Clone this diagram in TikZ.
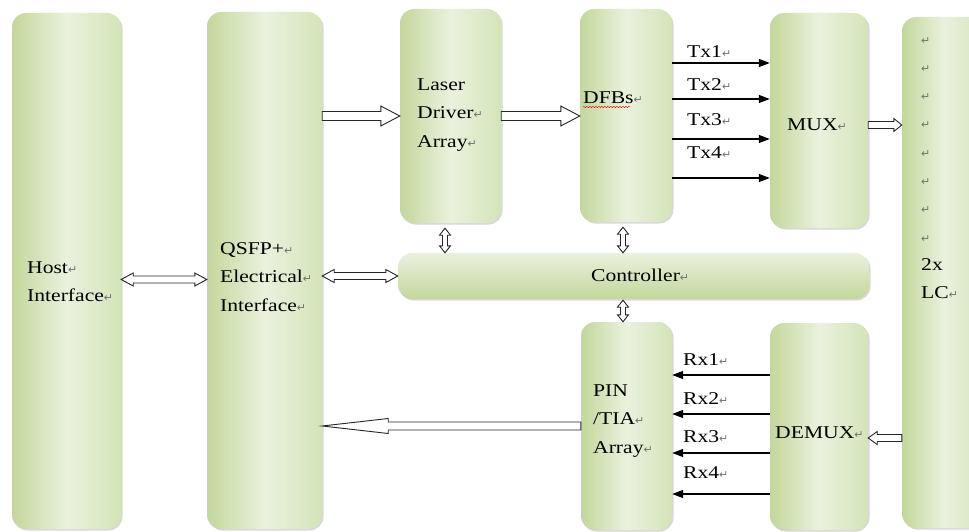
\documentclass[tikz,border=0pt]{standalone}
\usepackage{fontspec}
\setmainfont{Liberation Serif}[FakeStretch=1.2]
\newfontfamily\symfont{DejaVu Sans}
\usetikzlibrary{calc,arrows.meta,shadows,decorations.pathmorphing}
\definecolor{boxdark}{RGB}{195,215,155}
\definecolor{boxmid}{RGB}{212,228,184}
\definecolor{boxlite}{RGB}{234,241,222}
% return mark as printed by the editor
\newcommand{\retmark}{{\symfont\fontsize{11}{11}\selectfont\textcolor{black!55}{↵}}}
% open block arrow: tail, tip, half shaft, half head, head length
\newcommand{\onearrow}[5]{%
  \coordinate (hb) at ($(#2)!#5!(#1)$);
  \draw[blk] ($(#1)!#3!90:(#2)$) -- ($(hb)!#3!-90:(#1)$) -- ($(hb)!#4!-90:(#1)$) -- (#2)
    -- ($(hb)!#4!90:(#1)$) -- ($(hb)!#3!90:(#1)$) -- ($(#1)!#3!-90:(#2)$) -- cycle;}
% open block arrow with two heads
\newcommand{\twoarrow}[5]{%
  \coordinate (ha) at ($(#1)!#5!(#2)$);
  \coordinate (hb) at ($(#2)!#5!(#1)$);
  \draw[blk] (#1) -- ($(ha)!#4!90:(#2)$) -- ($(ha)!#3!90:(#2)$) -- ($(hb)!#3!-90:(#1)$)
    -- ($(hb)!#4!-90:(#1)$) -- (#2) -- ($(hb)!#4!90:(#1)$) -- ($(hb)!#3!90:(#1)$)
    -- ($(ha)!#3!-90:(#2)$) -- ($(ha)!#4!-90:(#2)$) -- cycle;}
\tikzset{
  box/.style={rounded corners=14pt, inner sep=0pt, left color=boxdark, right color=boxmid,
    middle color=boxlite, drop shadow={shadow xshift=1.5pt, shadow yshift=-1.5pt, opacity=0.3}},
  txt/.style={anchor=west, inner sep=0pt, align=left, font=\fontsize{18}{28.3}\selectfont},
  blk/.style={draw=black!85, fill=white, line width=0.9pt, line join=miter},
  sig/.style={line width=1.3pt, -{Triangle[length=11pt,width=8pt]}}
}
\begin{document}
\begin{tikzpicture}[x=1pt,y=-1pt]
  \useasboundingbox[fill=white] (0,0) rectangle (969,532);
  % blocks
  \node[box, minimum width=109, minimum height=516] (host) at (66.5,271) {};
  \node[box, minimum width=115, minimum height=517] (qsfp) at (264.5,270.5) {};
  \node[box, minimum width=101, minimum height=214] (lda) at (450.5,116) {};
  \node[box, minimum width=92, minimum height=213] (dfb) at (626,115.5) {};
  \node[box, minimum width=98, minimum height=215] (mux) at (819,120.5) {};
  \node[box, minimum width=84, minimum height=511] (lc) at (944,272.5) {};
  \node[box, minimum width=471, minimum height=46, top color=boxlite, bottom color=boxdark] (ctrl) at (633.5,276) {};
  \node[box, minimum width=91, minimum height=208] (pin) at (626.5,426) {};
  \node[box, minimum width=98, minimum height=207] (demux) at (819,426.5) {};
  % labels
  \node[txt] (hostlbl) at (27,282) {Host\retmark\\Interface\retmark};
  \node[txt] (qsfplbl) at (220,277) {QSFP+\retmark\\Electrical\retmark\\Interface\retmark};
  \node[txt] (ldalbl) at (417,115) {Laser\\Driver\retmark\\Array\retmark};
  \node[txt] (dfblbl) at (583,98) {DFBs\retmark};
  \node[txt] (muxlbl) at (787,125) {MUX\retmark};
  \node[txt] (ctrllbl) at (591,275) {Controller\retmark};
  \node[txt] (pinlbl) at (593,421) {PIN\\/TIA\retmark\\Array\retmark};
  \node[txt] (demuxlbl) at (775,433) {DEMUX\retmark};
  \node[txt] (lclbl) at (921,168) {\retmark\\\retmark\\\retmark\\\retmark\\\retmark\\\retmark\\\retmark\\\retmark\\2x\\LC\retmark};
  \draw[red, decorate, decoration={snake, amplitude=0.7pt, segment length=3pt}]
    ($(dfblbl.west)+(0,9)$) -- ++(47,0);
  % transmit and receive lanes
  \foreach \ly/\ty [count=\i] in {63/52,99/85,139/120,178/153}{
    \draw[sig] (dfb.east |- 0,\ly) -- (mux.west |- 0,\ly);
    \node[txt] (tx\i) at (687,\ty) {Tx\i\retmark};
  }
  \foreach \ly/\ty [count=\i] in {375/360,414/399,453/437,494/473}{
    \draw[sig] (demux.west |- 0,\ly) -- (pin.east |- 0,\ly);
    \node[txt] (rx\i) at (683,\ty) {Rx\i\retmark};
  }
  % block arrows
  \coordinate (h1) at ($(host.east)+(0,8.5)$);
  \coordinate (h2) at (qsfp.west |- h1);
  \twoarrow{h1}{h2}{3.5pt}{6.5pt}{12pt}
  \coordinate (q1) at (qsfp.east |- ctrl.west);
  \twoarrow{q1}{ctrl.west}{3.5pt}{6.5pt}{12pt}
  \coordinate (q2) at (qsfp.east |- lda.west);
  \onearrow{q2}{lda.west}{4.5pt}{10pt}{19pt}
  \coordinate (d1) at (dfb.west |- lda.east);
  \onearrow{lda.east}{d1}{4.5pt}{10pt}{19pt}
  \coordinate (m1) at ($(mux.east)+(0,4.5)$);
  \coordinate (m2) at (lc.west |- m1);
  \onearrow{m1}{m2}{3.5pt}{6.5pt}{8pt}
  \coordinate (x1) at ($(demux.east)+(0,11.5)$);
  \coordinate (x2) at (lc.west |- x1);
  \onearrow{x2}{x1}{3.5pt}{6.5pt}{9pt}
  \coordinate (p1) at (qsfp.east |- pin.west);
  \onearrow{pin.west}{p1}{4pt}{7.5pt}{66pt}
  % links to the controller
  \coordinate (v1) at ($(lda.south)+(-5.5,5)$);
  \coordinate (v2) at (v1 |- ctrl.north);
  \twoarrow{v1}{v2}{2.5pt}{5.5pt}{7pt}
  \coordinate (v3) at ($(dfb.south)+(-3,5)$);
  \coordinate (v4) at (v3 |- ctrl.north);
  \twoarrow{v3}{v4}{2.5pt}{5.5pt}{7pt}
  \coordinate (v5) at ($(ctrl.south)+(-10.5,1)$);
  \coordinate (v6) at (v5 |- pin.north);
  \twoarrow{v5}{v6}{2.5pt}{5.5pt}{7pt}
\end{tikzpicture}
\end{document}
